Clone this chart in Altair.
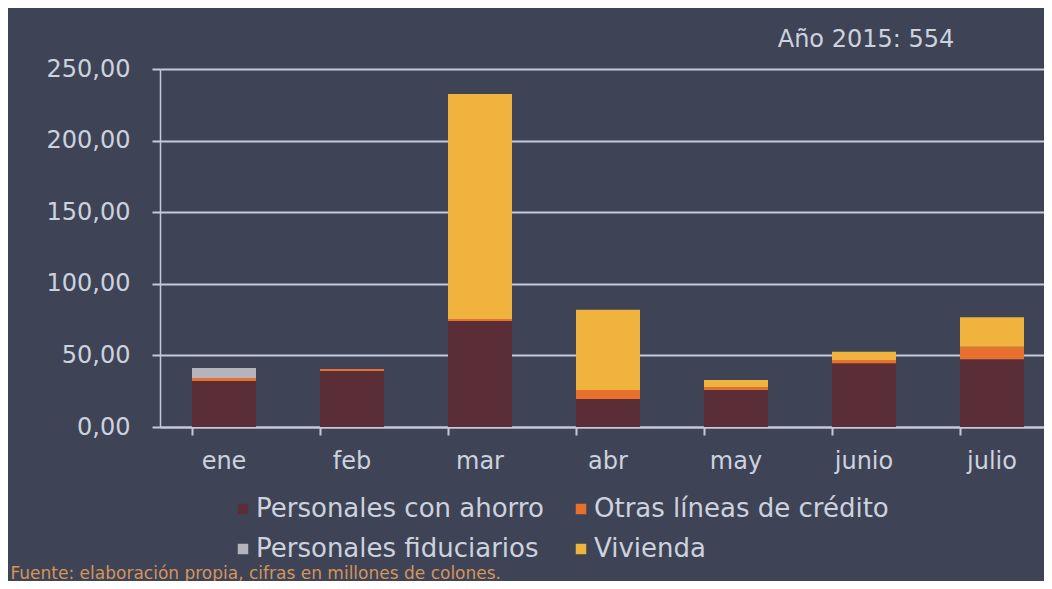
import altair as alt
import pandas as pd

meses = ["ene", "feb", "mar", "abr", "may", "junio", "julio"]
series = ["Personales con ahorro", "Otras líneas de crédito", "Personales fiduciarios", "Vivienda"]
personales_ahorro = [32.1, 39.1, 74.0, 19.6, 25.8, 44.5, 47.3]
otras_lineas = [2.1, 1.4, 1.5, 6.2, 1.9, 2.3, 8.7]
personales_fiduciarios = [7.0, 0.0, 0.0, 0.0, 0.0, 0.0, 0.0]
vivienda = [0.0, 0.0, 157.0, 56.0, 5.1, 5.8, 20.6]
colores = ["#5b2d37", "#e8702e", "#b4b4bc", "#f0b43e"]
y_ticks = [0, 50, 100, 150, 200, 250]
titulo = "Año 2015: 554"
fuente = "Fuente: elaboración propia, cifras en millones de colones."

valores = [personales_ahorro, otras_lineas, personales_fiduciarios, vivienda]
rows = []
for i, s in enumerate(series):
    for j, m in enumerate(meses):
        rows.append({"mes": m, "serie": s, "orden": i, "valor": valores[i][j]})
df = pd.DataFrame(rows)

FONT = "DejaVu Sans"
LIGHT = "#cdd2df"
LINE = "#c4cad8"

chart = alt.Chart(df).mark_bar().encode(
    x=alt.X(
        "mes:N",
        sort=meses,
        scale=alt.Scale(paddingInner=0.5, paddingOuter=0.25, range=[0, 896]),
        axis=alt.Axis(
            title=fuente,
            titleX=-150,
            titleY=151,
            titleAlign="left",
            titleBaseline="alphabetic",
            titleAngle=0,
            titleFontSize=17,
            titleFont=FONT,
            titleFontWeight="normal",
            titleColor="#d4955a",
            labelAngle=0,
            labelFontSize=24,
            labelFont=FONT,
            labelColor=LIGHT,
            labelPadding=14,
            domainColor=LINE,
            domainWidth=2,
            tickColor=LINE,
            tickWidth=2,
            tickSize=8,
            bandPosition=0,
            grid=False,
        ),
    ),
    y=alt.Y(
        "valor:Q",
        stack="zero",
        scale=alt.Scale(domain=[0, 250], nice=False),
        axis=alt.Axis(
            title=None,
            values=y_ticks,
            labelExpr="replace(format(datum.value, '.2f'), '.', ',')",
            labelFontSize=24,
            labelFont=FONT,
            labelColor=LIGHT,
            labelPadding=22,
            domainColor=LINE,
            domainWidth=1.5,
            tickColor=LINE,
            tickWidth=2,
            tickSize=8,
            grid=True,
            gridColor=LINE,
            gridWidth=2,
        ),
    ),
    color=alt.Color(
        "serie:N",
        scale=alt.Scale(domain=series, range=colores),
        legend=alt.Legend(
            title=None,
            orient="none",
            direction="horizontal",
            legendX=70,
            legendY=427,
            columns=2,
            labelFontSize=26,
            labelFont=FONT,
            labelColor=LIGHT,
            labelLimit=0,
            labelOffset=0,
            symbolType="square",
            symbolSize=110,
            symbolStrokeWidth=0,
            rowPadding=14,
            columnPadding=24,
            padding=0,
        ),
    ),
    order=alt.Order("orden:Q", sort="ascending"),
).properties(
    width=884,
    height=358,
    padding={"left": 152, "top": 61, "right": 0, "bottom": 154},
    autosize=alt.AutoSizeParams(type="none"),
    background="#3e4456",
    title=alt.TitleParams(
        text=titulo,
        anchor="middle",
        dx=264,
        offset=5,
        fontSize=24,
        font=FONT,
        fontWeight="normal",
        color=LIGHT,
    ),
).configure_view(stroke=None)

chart.save("out.html", embed_options={"renderer": "svg", "actions": False})
